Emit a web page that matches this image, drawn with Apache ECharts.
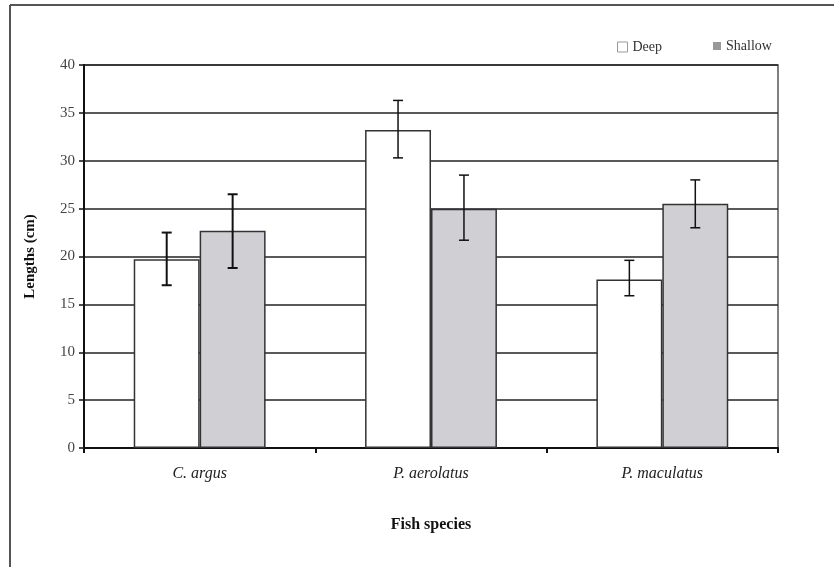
<!DOCTYPE html>
<html>
<head>
<meta charset="utf-8">
<script src="https://cdn.jsdelivr.net/npm/echarts@6/dist/echarts.min.js"></script>
<style>
html,body{margin:0;padding:0;background:#fff;}
#chart{width:834px;height:567px;}
</style>
</head>
<body>
<div id="chart"></div>
<script>
var species = ['C. argus', 'P. aerolatus', 'P. maculatus'];
var deep = [19.7, 33.2, 17.6];
var shallow = [22.7, 25.0, 25.5];
var deepLow = [17.0, 30.3, 15.9];
var deepHigh = [22.5, 36.3, 19.6];
var shallowLow = [18.8, 21.7, 23.0];
var shallowHigh = [26.5, 28.5, 28.0];
var errWidth = [2, 1.5, 1.5];

var FONT = 'Liberation Serif';
var GAP = 0.43;

function errData(lo, hi){
	var out = [];
	for (var i = 0; i < lo.length; i++) {
		out.push([i, lo[i], hi[i]]);
	}
	return out;
}

// error bar drawn at the centre of the Deep (-1) or Shallow (+1) bar
function errRender(side){
	return function(params, api){
		var i = api.value(0);
		var lo = api.coord([i, api.value(1)]);
		var hi = api.coord([i, api.value(2)]);
		var catW = api.size([1, 0])[0];
		var barW = catW * (1 - GAP) / 2;
		var x = lo[0] + side * barW / 2;
		var cap = 5;
		var st = {stroke: '#111', lineWidth: errWidth[i]};
		return {
			type: 'group',
			children: [
				{type: 'line', shape: {x1: x, y1: lo[1], x2: x, y2: hi[1]}, style: st},
				{type: 'line', shape: {x1: x - cap, y1: lo[1], x2: x + cap, y2: lo[1]}, style: st},
				{type: 'line', shape: {x1: x - cap, y1: hi[1], x2: x + cap, y2: hi[1]}, style: st}
			]
		};
	};
}

var dom = document.getElementById("chart");
var myChart = echarts.init(dom);
var option = {
	backgroundColor: '#fff',
	textStyle: {fontFamily: FONT},
	animation: false,
	graphic: [
		{type: 'line', shape: {x1: 10, y1: 5, x2: 834, y2: 5}, style: {stroke: '#555', lineWidth: 2}},
		{type: 'line', shape: {x1: 10, y1: 5, x2: 10, y2: 567}, style: {stroke: '#555', lineWidth: 2}}
	],
	legend: [
		{
			left: 612, top: 35,
			itemWidth: 10, itemHeight: 10,
			textStyle: {fontFamily: FONT, fontSize: 14, color: '#333'},
			data: [{name: 'Deep', icon: 'rect', itemStyle: {color: '#fff', borderColor: '#999', borderWidth: 1}}]
		},
		{
			left: 708, top: 34,
			itemWidth: 8, itemHeight: 8,
			textStyle: {fontFamily: FONT, fontSize: 14, color: '#333'},
			data: [{name: 'Shallow', icon: 'rect', itemStyle: {color: '#999', borderWidth: 0}}]
		}
	],
	grid: {
		left: 84, right: 56, top: 65, bottom: 119,
		show: true, borderColor: '#555', borderWidth: 1.5, backgroundColor: 'transparent'
	},
	xAxis: {
		type: 'category',
		data: species,
		name: 'Fish species',
		nameLocation: 'middle',
		nameGap: 69,
		nameTextStyle: {fontFamily: FONT, fontSize: 16, fontWeight: 'bold', color: '#111'},
		axisLine: {lineStyle: {color: '#111', width: 2}},
		axisTick: {show: true, length: 5, lineStyle: {color: '#111', width: 2}},
		axisLabel: {fontFamily: FONT, fontSize: 16, fontStyle: 'italic', color: '#222', margin: 18}
	},
	yAxis: {
		type: 'value',
		min: 0, max: 40, interval: 5,
		name: 'Lengths (cm)',
		nameLocation: 'middle',
		nameGap: 46,
		nameTextStyle: {fontFamily: FONT, fontSize: 15, fontWeight: 'bold', color: '#111'},
		axisLine: {show: true, lineStyle: {color: '#111', width: 2}},
		axisTick: {show: true, length: 5, lineStyle: {color: '#111', width: 1.5}},
		axisLabel: {fontFamily: FONT, fontSize: 15, color: '#444', margin: 9},
		splitLine: {show: true, lineStyle: {color: '#222', width: 1.5}}
	},
	series: [
		{
			name: 'Deep',
			type: 'bar',
			data: deep,
			barGap: '0%',
			barCategoryGap: (GAP * 100) + '%',
			itemStyle: {color: '#fff', borderColor: '#333', borderWidth: 1.5}
		},
		{
			name: 'Shallow',
			type: 'bar',
			data: shallow,
			barGap: '0%',
			barCategoryGap: (GAP * 100) + '%',
			itemStyle: {color: '#d0cfd4', borderColor: '#333', borderWidth: 1.5}
		},
		{
			name: 'Deep err',
			type: 'custom',
			renderItem: errRender(-1),
			data: errData(deepLow, deepHigh),
			z: 10
		},
		{
			name: 'Shallow err',
			type: 'custom',
			renderItem: errRender(1),
			data: errData(shallowLow, shallowHigh),
			z: 10
		}
	]
};

if (option && typeof option === "object") {
	myChart.setOption(option, true);
}
</script>
</body>
</html>
